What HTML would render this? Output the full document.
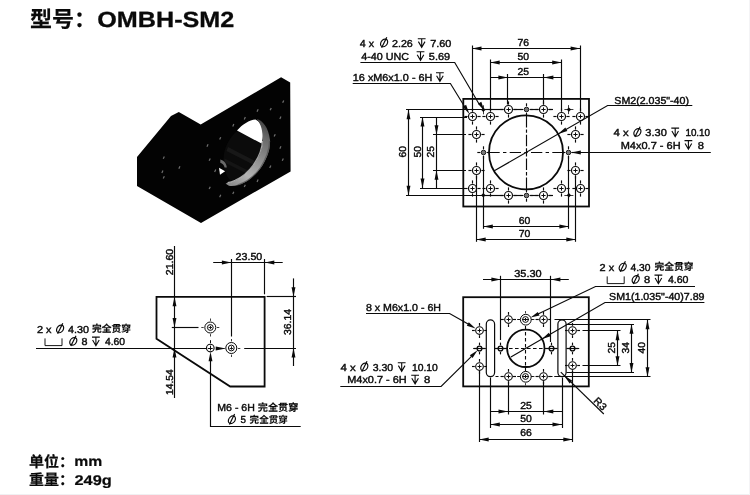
<!DOCTYPE html>
<html><head><meta charset="utf-8"><title>OMBH-SM2</title>
<style>
html,body{margin:0;padding:0;background:#fff;}
body{width:750px;height:495px;overflow:hidden;}
svg{display:block;will-change:transform;}
svg text{font-family:"Liberation Sans","Noto Sans CJK SC",sans-serif;fill:#0a0a0a;stroke:#0a0a0a;stroke-width:0.4px;text-rendering:geometricPrecision;}
</style></head><body>
<svg width="750" height="495" viewBox="0 0 750 495">
<rect width="750" height="495" fill="#fff"/>
<rect x="0" y="494" width="750" height="1" fill="#f0f0f2"/><rect x="749" y="0" width="1" height="495" fill="#f4f4f6"/>
<text x="30" y="27.2" font-size="22" font-weight="bold" text-anchor="start" style="stroke-width:0.2px">型号：</text>
<text x="97.3" y="26.8" font-size="22" font-weight="bold" text-anchor="start" textLength="137" lengthAdjust="spacingAndGlyphs" style="stroke-width:0.3px">OMBH-SM2</text>
<text x="29" y="467" font-size="15" font-weight="bold" text-anchor="start" style="stroke-width:0.2px">单位：</text>
<text x="74.2" y="466.4" font-size="14" font-weight="bold" text-anchor="start" textLength="28" lengthAdjust="spacingAndGlyphs" style="stroke-width:0.2px">mm</text>
<text x="29" y="485.4" font-size="15" font-weight="bold" text-anchor="start" style="stroke-width:0.2px">重量：</text>
<text x="74.5" y="484.9" font-size="14" font-weight="bold" text-anchor="start" textLength="37.3" lengthAdjust="spacingAndGlyphs" style="stroke-width:0.2px">249g</text>
<defs><linearGradient id="rg" gradientUnits="userSpaceOnUse" x1="270" y1="122" x2="228" y2="186"><stop offset="0" stop-color="#3c3c3c"/><stop offset="0.2" stop-color="#686868"/><stop offset="0.45" stop-color="#8a8a8a"/><stop offset="0.75" stop-color="#b4b4b4"/><stop offset="1" stop-color="#868686"/></linearGradient></defs>
<polygon points="137,157 171,116 178.8,112 200.7,124.5 281.1,77.3 290.2,82.6 290.6,171.5 201,222.9 137,185.9" fill="#030303"/>
<path d="M237 131L261.5 144C262 150 259 157 253 165C247 172.5 240 178 231 181C226 176 223 168 223.5 158C224 148 229 138 237 131Z" fill="#0b0b0b"/>
<polygon points="228,147 256,161.5 254,165 226.5,151" fill="#181818"/>
<polygon points="224.5,158.5 249,171 246.5,173.5 224.5,162.5" fill="#151515"/>
<path d="M237 130.5C242 124.5 249.5 119.6 255.5 119.4C259.5 121.5 262 125 262.6 129.5C263.4 134.5 262.8 139.5 261.5 143.6Z" fill="#fff"/>
<path d="M256.8 119.0C262.5 120.5 268.5 127 270 140C270.3 146 269.2 151 267.5 155.2C265.5 160 263.5 164 260.5 168.3C257.5 172.5 253.5 176.3 249.3 179.4C246 181.8 242 183.8 238.2 185C235.5 185.9 232.5 186.2 230.2 186C228.5 185.6 226.8 184.6 225.6 183.4C226.2 183.3 226.8 183.1 227.1 182.9C230 182.4 232.6 181.6 235.2 180.4C238.5 178.9 241.6 177 244.3 174.8C247.8 172 250.8 168.8 253.4 165.3C255.8 162 257.8 158.8 259.4 155.2C261.3 151 262.4 146 262.7 140C262.9 133 261.8 125 256.8 119.0Z" fill="url(#rg)"/>
<path d="M262.4 141C262 150 258.6 157.5 253.2 165C248.5 171.5 242.5 176.8 235 180.3C232.5 181.4 230 182.2 227.6 182.7" fill="none" stroke="#e0e0e0" stroke-width="1.2" opacity="0.7"/>
<path d="M269.6 141C269.5 150 266 159 260.2 168C254.5 176 246 182.4 237.5 185" fill="none" stroke="#555" stroke-width="1.2" opacity="0.8"/>
<path d="M220.3 159.6C223.8 160.6 226.4 163.4 226.8 167.4L224.6 167.6C224 165 222.6 163.6 220.3 162.8Z" fill="#6a6a6a"/>
<polygon points="219,167.8 225.1,171.3 220,174.8" fill="#fff"/>
<line x1="282.65" y1="102.8" x2="283.75" y2="100.4" stroke="#707070" stroke-width="1.2"/>
<line x1="270.15" y1="110.3" x2="271.25" y2="107.9" stroke="#707070" stroke-width="1.2"/>
<line x1="257.05" y1="111.7" x2="258.15" y2="109.3" stroke="#707070" stroke-width="1.2"/>
<line x1="279.85" y1="119" x2="280.95" y2="116.6" stroke="#707070" stroke-width="1.2"/>
<line x1="244.25" y1="119.4" x2="245.35" y2="117" stroke="#707070" stroke-width="1.2"/>
<line x1="232.75" y1="126.5" x2="233.85" y2="124.1" stroke="#707070" stroke-width="1.2"/>
<line x1="219.65" y1="139.6" x2="220.75" y2="137.2" stroke="#707070" stroke-width="1.2"/>
<line x1="206.95" y1="146.7" x2="208.05" y2="144.3" stroke="#707070" stroke-width="1.2"/>
<line x1="274.15" y1="136.6" x2="275.25" y2="134.2" stroke="#707070" stroke-width="1.2"/>
<line x1="279.85" y1="148.7" x2="280.95" y2="146.3" stroke="#707070" stroke-width="1.2"/>
<line x1="282.25" y1="160.8" x2="283.35" y2="158.4" stroke="#707070" stroke-width="1.2"/>
<line x1="209.15" y1="160.8" x2="210.25" y2="158.4" stroke="#707070" stroke-width="1.2"/>
<line x1="269.75" y1="167.9" x2="270.85" y2="165.5" stroke="#707070" stroke-width="1.2"/>
<line x1="214.65" y1="171.9" x2="215.75" y2="169.5" stroke="#707070" stroke-width="1.2"/>
<line x1="257.05" y1="182" x2="258.15" y2="179.6" stroke="#707070" stroke-width="1.2"/>
<line x1="244.25" y1="187.1" x2="245.35" y2="184.7" stroke="#707070" stroke-width="1.2"/>
<line x1="209.15" y1="189.1" x2="210.25" y2="186.7" stroke="#707070" stroke-width="1.2"/>
<line x1="232.75" y1="194.1" x2="233.85" y2="191.7" stroke="#707070" stroke-width="1.2"/>
<line x1="219.65" y1="197.2" x2="220.75" y2="194.8" stroke="#707070" stroke-width="1.2"/>
<line x1="163.25" y1="158.8" x2="164.35" y2="156.4" stroke="#707070" stroke-width="1.2"/>
<line x1="178.85" y1="168.7" x2="179.95" y2="166.3" stroke="#707070" stroke-width="1.2"/>
<line x1="161.85" y1="172.9" x2="162.95" y2="170.5" stroke="#707070" stroke-width="1.2"/>
<line x1="163.25" y1="178.6" x2="164.35" y2="176.2" stroke="#707070" stroke-width="1.2"/>
<rect x="463.3" y="98.9" width="125.7" height="107.6" fill="none" stroke="#0a0a0a" stroke-width="1.8"/>
<circle cx="526" cy="152.4" r="37" fill="none" stroke="#0a0a0a" stroke-width="1.8"/>
<line x1="526" y1="152.5" x2="565.6" y2="152.5" stroke="#0a0a0a" stroke-width="1.15" stroke-dasharray="1.7 3.3 11.3 3.3 3.4 3.3 11.3 3.3"/>
<line x1="526" y1="152.5" x2="486.4" y2="152.5" stroke="#0a0a0a" stroke-width="1.15" stroke-dasharray="1.7 3.3 11.3 3.3 3.4 3.3 11.3 3.3"/>
<line x1="526.5" y1="152.4" x2="526.5" y2="189.2" stroke="#0a0a0a" stroke-width="1.15" stroke-dasharray="4.2 2 11.5 2 3.3 2 11.7 2"/>
<line x1="526.5" y1="152.4" x2="526.5" y2="115.6" stroke="#0a0a0a" stroke-width="1.15" stroke-dasharray="4.2 2 11.5 2 3.3 2 11.7 2"/>
<line x1="483" y1="109.5" x2="503.5" y2="109.5" stroke="#0a0a0a" stroke-width="1.15"/>
<line x1="513.5" y1="109.5" x2="521.5" y2="109.5" stroke="#0a0a0a" stroke-width="1.15"/>
<line x1="530.5" y1="109.5" x2="538.5" y2="109.5" stroke="#0a0a0a" stroke-width="1.15"/>
<line x1="548.6" y1="109.5" x2="553" y2="109.5" stroke="#0a0a0a" stroke-width="1.15"/>
<line x1="483" y1="195.5" x2="503.5" y2="195.5" stroke="#0a0a0a" stroke-width="1.15"/>
<line x1="513.5" y1="195.5" x2="521.5" y2="195.5" stroke="#0a0a0a" stroke-width="1.15"/>
<line x1="530.5" y1="195.5" x2="538.5" y2="195.5" stroke="#0a0a0a" stroke-width="1.15"/>
<line x1="548.6" y1="195.5" x2="553" y2="195.5" stroke="#0a0a0a" stroke-width="1.15"/>
<circle cx="472.5" cy="116.5" r="4" fill="none" stroke="#0a0a0a" stroke-width="1.2"/>
<line x1="477.4" y1="116.5" x2="480.6" y2="116.5" stroke="#0a0a0a" stroke-width="1.15"/>
<line x1="467.6" y1="116.5" x2="464.4" y2="116.5" stroke="#0a0a0a" stroke-width="1.15"/>
<line x1="472.5" y1="121.4" x2="472.5" y2="124.6" stroke="#0a0a0a" stroke-width="1.15"/>
<line x1="472.5" y1="111.6" x2="472.5" y2="108.4" stroke="#0a0a0a" stroke-width="1.15"/>
<line x1="470.4" y1="116.5" x2="474.6" y2="116.5" stroke="#0a0a0a" stroke-width="1.0"/>
<line x1="472.5" y1="114.4" x2="472.5" y2="118.6" stroke="#0a0a0a" stroke-width="1.0"/>
<circle cx="490.5" cy="116.5" r="4" fill="none" stroke="#0a0a0a" stroke-width="1.2"/>
<line x1="495.4" y1="116.5" x2="498.6" y2="116.5" stroke="#0a0a0a" stroke-width="1.15"/>
<line x1="485.6" y1="116.5" x2="482.4" y2="116.5" stroke="#0a0a0a" stroke-width="1.15"/>
<line x1="490.5" y1="121.4" x2="490.5" y2="124.6" stroke="#0a0a0a" stroke-width="1.15"/>
<line x1="490.5" y1="111.6" x2="490.5" y2="108.4" stroke="#0a0a0a" stroke-width="1.15"/>
<line x1="488.4" y1="116.5" x2="492.6" y2="116.5" stroke="#0a0a0a" stroke-width="1.0"/>
<line x1="490.5" y1="114.4" x2="490.5" y2="118.6" stroke="#0a0a0a" stroke-width="1.0"/>
<circle cx="508.5" cy="109.5" r="4" fill="none" stroke="#0a0a0a" stroke-width="1.2"/>
<line x1="513.4" y1="109.5" x2="516.6" y2="109.5" stroke="#0a0a0a" stroke-width="1.15"/>
<line x1="503.6" y1="109.5" x2="500.4" y2="109.5" stroke="#0a0a0a" stroke-width="1.15"/>
<line x1="508.5" y1="114.4" x2="508.5" y2="117.6" stroke="#0a0a0a" stroke-width="1.15"/>
<line x1="508.5" y1="104.6" x2="508.5" y2="101.4" stroke="#0a0a0a" stroke-width="1.15"/>
<line x1="506.4" y1="109.5" x2="510.6" y2="109.5" stroke="#0a0a0a" stroke-width="1.0"/>
<line x1="508.5" y1="107.4" x2="508.5" y2="111.6" stroke="#0a0a0a" stroke-width="1.0"/>
<circle cx="543.5" cy="109.5" r="4" fill="none" stroke="#0a0a0a" stroke-width="1.2"/>
<line x1="548.4" y1="109.5" x2="551.6" y2="109.5" stroke="#0a0a0a" stroke-width="1.15"/>
<line x1="538.6" y1="109.5" x2="535.4" y2="109.5" stroke="#0a0a0a" stroke-width="1.15"/>
<line x1="543.5" y1="114.4" x2="543.5" y2="117.6" stroke="#0a0a0a" stroke-width="1.15"/>
<line x1="543.5" y1="104.6" x2="543.5" y2="101.4" stroke="#0a0a0a" stroke-width="1.15"/>
<line x1="541.4" y1="109.5" x2="545.6" y2="109.5" stroke="#0a0a0a" stroke-width="1.0"/>
<line x1="543.5" y1="107.4" x2="543.5" y2="111.6" stroke="#0a0a0a" stroke-width="1.0"/>
<circle cx="561.5" cy="116.5" r="4" fill="none" stroke="#0a0a0a" stroke-width="1.2"/>
<line x1="566.4" y1="116.5" x2="569.6" y2="116.5" stroke="#0a0a0a" stroke-width="1.15"/>
<line x1="556.6" y1="116.5" x2="553.4" y2="116.5" stroke="#0a0a0a" stroke-width="1.15"/>
<line x1="561.5" y1="121.4" x2="561.5" y2="124.6" stroke="#0a0a0a" stroke-width="1.15"/>
<line x1="561.5" y1="111.6" x2="561.5" y2="108.4" stroke="#0a0a0a" stroke-width="1.15"/>
<line x1="559.4" y1="116.5" x2="563.6" y2="116.5" stroke="#0a0a0a" stroke-width="1.0"/>
<line x1="561.5" y1="114.4" x2="561.5" y2="118.6" stroke="#0a0a0a" stroke-width="1.0"/>
<circle cx="580.5" cy="116.5" r="4" fill="none" stroke="#0a0a0a" stroke-width="1.2"/>
<line x1="585.4" y1="116.5" x2="588.6" y2="116.5" stroke="#0a0a0a" stroke-width="1.15"/>
<line x1="575.6" y1="116.5" x2="572.4" y2="116.5" stroke="#0a0a0a" stroke-width="1.15"/>
<line x1="580.5" y1="121.4" x2="580.5" y2="124.6" stroke="#0a0a0a" stroke-width="1.15"/>
<line x1="580.5" y1="111.6" x2="580.5" y2="108.4" stroke="#0a0a0a" stroke-width="1.15"/>
<line x1="578.4" y1="116.5" x2="582.6" y2="116.5" stroke="#0a0a0a" stroke-width="1.0"/>
<line x1="580.5" y1="114.4" x2="580.5" y2="118.6" stroke="#0a0a0a" stroke-width="1.0"/>
<circle cx="472.5" cy="188.5" r="4" fill="none" stroke="#0a0a0a" stroke-width="1.2"/>
<line x1="477.4" y1="188.5" x2="480.6" y2="188.5" stroke="#0a0a0a" stroke-width="1.15"/>
<line x1="467.6" y1="188.5" x2="464.4" y2="188.5" stroke="#0a0a0a" stroke-width="1.15"/>
<line x1="472.5" y1="193.4" x2="472.5" y2="196.6" stroke="#0a0a0a" stroke-width="1.15"/>
<line x1="472.5" y1="183.6" x2="472.5" y2="180.4" stroke="#0a0a0a" stroke-width="1.15"/>
<line x1="470.4" y1="188.5" x2="474.6" y2="188.5" stroke="#0a0a0a" stroke-width="1.0"/>
<line x1="472.5" y1="186.4" x2="472.5" y2="190.6" stroke="#0a0a0a" stroke-width="1.0"/>
<circle cx="490.5" cy="188.5" r="4" fill="none" stroke="#0a0a0a" stroke-width="1.2"/>
<line x1="495.4" y1="188.5" x2="498.6" y2="188.5" stroke="#0a0a0a" stroke-width="1.15"/>
<line x1="485.6" y1="188.5" x2="482.4" y2="188.5" stroke="#0a0a0a" stroke-width="1.15"/>
<line x1="490.5" y1="193.4" x2="490.5" y2="196.6" stroke="#0a0a0a" stroke-width="1.15"/>
<line x1="490.5" y1="183.6" x2="490.5" y2="180.4" stroke="#0a0a0a" stroke-width="1.15"/>
<line x1="488.4" y1="188.5" x2="492.6" y2="188.5" stroke="#0a0a0a" stroke-width="1.0"/>
<line x1="490.5" y1="186.4" x2="490.5" y2="190.6" stroke="#0a0a0a" stroke-width="1.0"/>
<circle cx="508.5" cy="195.5" r="4" fill="none" stroke="#0a0a0a" stroke-width="1.2"/>
<line x1="513.4" y1="195.5" x2="516.6" y2="195.5" stroke="#0a0a0a" stroke-width="1.15"/>
<line x1="503.6" y1="195.5" x2="500.4" y2="195.5" stroke="#0a0a0a" stroke-width="1.15"/>
<line x1="508.5" y1="200.4" x2="508.5" y2="203.6" stroke="#0a0a0a" stroke-width="1.15"/>
<line x1="508.5" y1="190.6" x2="508.5" y2="187.4" stroke="#0a0a0a" stroke-width="1.15"/>
<line x1="506.4" y1="195.5" x2="510.6" y2="195.5" stroke="#0a0a0a" stroke-width="1.0"/>
<line x1="508.5" y1="193.4" x2="508.5" y2="197.6" stroke="#0a0a0a" stroke-width="1.0"/>
<circle cx="543.5" cy="195.5" r="4" fill="none" stroke="#0a0a0a" stroke-width="1.2"/>
<line x1="548.4" y1="195.5" x2="551.6" y2="195.5" stroke="#0a0a0a" stroke-width="1.15"/>
<line x1="538.6" y1="195.5" x2="535.4" y2="195.5" stroke="#0a0a0a" stroke-width="1.15"/>
<line x1="543.5" y1="200.4" x2="543.5" y2="203.6" stroke="#0a0a0a" stroke-width="1.15"/>
<line x1="543.5" y1="190.6" x2="543.5" y2="187.4" stroke="#0a0a0a" stroke-width="1.15"/>
<line x1="541.4" y1="195.5" x2="545.6" y2="195.5" stroke="#0a0a0a" stroke-width="1.0"/>
<line x1="543.5" y1="193.4" x2="543.5" y2="197.6" stroke="#0a0a0a" stroke-width="1.0"/>
<circle cx="561.5" cy="188.5" r="4" fill="none" stroke="#0a0a0a" stroke-width="1.2"/>
<line x1="566.4" y1="188.5" x2="569.6" y2="188.5" stroke="#0a0a0a" stroke-width="1.15"/>
<line x1="556.6" y1="188.5" x2="553.4" y2="188.5" stroke="#0a0a0a" stroke-width="1.15"/>
<line x1="561.5" y1="193.4" x2="561.5" y2="196.6" stroke="#0a0a0a" stroke-width="1.15"/>
<line x1="561.5" y1="183.6" x2="561.5" y2="180.4" stroke="#0a0a0a" stroke-width="1.15"/>
<line x1="559.4" y1="188.5" x2="563.6" y2="188.5" stroke="#0a0a0a" stroke-width="1.0"/>
<line x1="561.5" y1="186.4" x2="561.5" y2="190.6" stroke="#0a0a0a" stroke-width="1.0"/>
<circle cx="580.5" cy="188.5" r="4" fill="none" stroke="#0a0a0a" stroke-width="1.2"/>
<line x1="585.4" y1="188.5" x2="588.6" y2="188.5" stroke="#0a0a0a" stroke-width="1.15"/>
<line x1="575.6" y1="188.5" x2="572.4" y2="188.5" stroke="#0a0a0a" stroke-width="1.15"/>
<line x1="580.5" y1="193.4" x2="580.5" y2="196.6" stroke="#0a0a0a" stroke-width="1.15"/>
<line x1="580.5" y1="183.6" x2="580.5" y2="180.4" stroke="#0a0a0a" stroke-width="1.15"/>
<line x1="578.4" y1="188.5" x2="582.6" y2="188.5" stroke="#0a0a0a" stroke-width="1.0"/>
<line x1="580.5" y1="186.4" x2="580.5" y2="190.6" stroke="#0a0a0a" stroke-width="1.0"/>
<circle cx="476.5" cy="134.5" r="4" fill="none" stroke="#0a0a0a" stroke-width="1.2"/>
<line x1="481.4" y1="134.5" x2="484.6" y2="134.5" stroke="#0a0a0a" stroke-width="1.15"/>
<line x1="471.6" y1="134.5" x2="468.4" y2="134.5" stroke="#0a0a0a" stroke-width="1.15"/>
<line x1="476.5" y1="139.4" x2="476.5" y2="142.6" stroke="#0a0a0a" stroke-width="1.15"/>
<line x1="476.5" y1="129.6" x2="476.5" y2="126.4" stroke="#0a0a0a" stroke-width="1.15"/>
<line x1="474.4" y1="134.5" x2="478.6" y2="134.5" stroke="#0a0a0a" stroke-width="1.0"/>
<line x1="476.5" y1="132.4" x2="476.5" y2="136.6" stroke="#0a0a0a" stroke-width="1.0"/>
<circle cx="476.5" cy="170.5" r="4" fill="none" stroke="#0a0a0a" stroke-width="1.2"/>
<line x1="481.4" y1="170.5" x2="484.6" y2="170.5" stroke="#0a0a0a" stroke-width="1.15"/>
<line x1="471.6" y1="170.5" x2="468.4" y2="170.5" stroke="#0a0a0a" stroke-width="1.15"/>
<line x1="476.5" y1="175.4" x2="476.5" y2="178.6" stroke="#0a0a0a" stroke-width="1.15"/>
<line x1="476.5" y1="165.6" x2="476.5" y2="162.4" stroke="#0a0a0a" stroke-width="1.15"/>
<line x1="474.4" y1="170.5" x2="478.6" y2="170.5" stroke="#0a0a0a" stroke-width="1.0"/>
<line x1="476.5" y1="168.4" x2="476.5" y2="172.6" stroke="#0a0a0a" stroke-width="1.0"/>
<circle cx="575.5" cy="134.5" r="4" fill="none" stroke="#0a0a0a" stroke-width="1.2"/>
<line x1="580.4" y1="134.5" x2="583.6" y2="134.5" stroke="#0a0a0a" stroke-width="1.15"/>
<line x1="570.6" y1="134.5" x2="567.4" y2="134.5" stroke="#0a0a0a" stroke-width="1.15"/>
<line x1="575.5" y1="139.4" x2="575.5" y2="142.6" stroke="#0a0a0a" stroke-width="1.15"/>
<line x1="575.5" y1="129.6" x2="575.5" y2="126.4" stroke="#0a0a0a" stroke-width="1.15"/>
<line x1="573.4" y1="134.5" x2="577.6" y2="134.5" stroke="#0a0a0a" stroke-width="1.0"/>
<line x1="575.5" y1="132.4" x2="575.5" y2="136.6" stroke="#0a0a0a" stroke-width="1.0"/>
<circle cx="575.5" cy="170.5" r="4" fill="none" stroke="#0a0a0a" stroke-width="1.2"/>
<line x1="580.4" y1="170.5" x2="583.6" y2="170.5" stroke="#0a0a0a" stroke-width="1.15"/>
<line x1="570.6" y1="170.5" x2="567.4" y2="170.5" stroke="#0a0a0a" stroke-width="1.15"/>
<line x1="575.5" y1="175.4" x2="575.5" y2="178.6" stroke="#0a0a0a" stroke-width="1.15"/>
<line x1="575.5" y1="165.6" x2="575.5" y2="162.4" stroke="#0a0a0a" stroke-width="1.15"/>
<line x1="573.4" y1="170.5" x2="577.6" y2="170.5" stroke="#0a0a0a" stroke-width="1.0"/>
<line x1="575.5" y1="168.4" x2="575.5" y2="172.6" stroke="#0a0a0a" stroke-width="1.0"/>
<circle cx="526.5" cy="109.5" r="2.3" fill="#777" stroke="#0a0a0a" stroke-width="0.9"/>
<line x1="529.7" y1="109.5" x2="532.7" y2="109.5" stroke="#0a0a0a" stroke-width="1.15"/>
<line x1="523.3" y1="109.5" x2="520.3" y2="109.5" stroke="#0a0a0a" stroke-width="1.15"/>
<line x1="526.5" y1="112.7" x2="526.5" y2="115.7" stroke="#0a0a0a" stroke-width="1.15"/>
<line x1="526.5" y1="106.3" x2="526.5" y2="103.3" stroke="#0a0a0a" stroke-width="1.15"/>
<circle cx="526.5" cy="195.5" r="2.3" fill="#777" stroke="#0a0a0a" stroke-width="0.9"/>
<line x1="529.7" y1="195.5" x2="532.7" y2="195.5" stroke="#0a0a0a" stroke-width="1.15"/>
<line x1="523.3" y1="195.5" x2="520.3" y2="195.5" stroke="#0a0a0a" stroke-width="1.15"/>
<line x1="526.5" y1="198.7" x2="526.5" y2="201.7" stroke="#0a0a0a" stroke-width="1.15"/>
<line x1="526.5" y1="192.3" x2="526.5" y2="189.3" stroke="#0a0a0a" stroke-width="1.15"/>
<circle cx="483.5" cy="152.5" r="2.3" fill="#777" stroke="#0a0a0a" stroke-width="0.9"/>
<line x1="486.7" y1="152.5" x2="489.7" y2="152.5" stroke="#0a0a0a" stroke-width="1.15"/>
<line x1="480.3" y1="152.5" x2="477.3" y2="152.5" stroke="#0a0a0a" stroke-width="1.15"/>
<line x1="483.5" y1="155.7" x2="483.5" y2="158.7" stroke="#0a0a0a" stroke-width="1.15"/>
<line x1="483.5" y1="149.3" x2="483.5" y2="146.3" stroke="#0a0a0a" stroke-width="1.15"/>
<circle cx="568.5" cy="152.5" r="2.3" fill="#777" stroke="#0a0a0a" stroke-width="0.9"/>
<line x1="571.7" y1="152.5" x2="574.7" y2="152.5" stroke="#0a0a0a" stroke-width="1.15"/>
<line x1="565.3" y1="152.5" x2="562.3" y2="152.5" stroke="#0a0a0a" stroke-width="1.15"/>
<line x1="568.5" y1="155.7" x2="568.5" y2="158.7" stroke="#0a0a0a" stroke-width="1.15"/>
<line x1="568.5" y1="149.3" x2="568.5" y2="146.3" stroke="#0a0a0a" stroke-width="1.15"/>
<polygon points="481.1,109.8 483.3,107.6 485.5,109.8 483.3,112" fill="#0a0a0a"/>
<line x1="478.8" y1="109.5" x2="487.8" y2="109.5" stroke="#0a0a0a" stroke-width="0.8"/>
<line x1="483.5" y1="105.3" x2="483.5" y2="114.3" stroke="#0a0a0a" stroke-width="0.8"/>
<polygon points="566.7,109.6 568.9,107.4 571.1,109.6 568.9,111.8" fill="#0a0a0a"/>
<line x1="564.4" y1="109.5" x2="573.4" y2="109.5" stroke="#0a0a0a" stroke-width="0.8"/>
<line x1="568.5" y1="105.1" x2="568.5" y2="114.1" stroke="#0a0a0a" stroke-width="0.8"/>
<polygon points="481.1,195.3 483.3,193.1 485.5,195.3 483.3,197.5" fill="#0a0a0a"/>
<line x1="478.8" y1="195.5" x2="487.8" y2="195.5" stroke="#0a0a0a" stroke-width="0.8"/>
<line x1="483.5" y1="190.8" x2="483.5" y2="199.8" stroke="#0a0a0a" stroke-width="0.8"/>
<polygon points="566.7,195.3 568.9,193.1 571.1,195.3 568.9,197.5" fill="#0a0a0a"/>
<line x1="564.4" y1="195.5" x2="573.4" y2="195.5" stroke="#0a0a0a" stroke-width="0.8"/>
<line x1="568.5" y1="190.8" x2="568.5" y2="199.8" stroke="#0a0a0a" stroke-width="0.8"/>
<line x1="472" y1="48.5" x2="580.1" y2="48.5" stroke="#0a0a0a" stroke-width="1.15"/>
<polygon points="472,48.5 481.5,46.55 481.5,50.45" fill="#0a0a0a"/>
<polygon points="580.1,48.5 570.6,50.45 570.6,46.55" fill="#0a0a0a"/>
<text x="523.3" y="45.9" font-size="10.1" text-anchor="middle" font-weight="normal" textLength="11.6" lengthAdjust="spacingAndGlyphs">76</text>
<line x1="490.2" y1="62.5" x2="561.7" y2="62.5" stroke="#0a0a0a" stroke-width="1.15"/>
<polygon points="490.2,62.5 499.7,60.55 499.7,64.45" fill="#0a0a0a"/>
<polygon points="561.7,62.5 552.2,64.45 552.2,60.55" fill="#0a0a0a"/>
<text x="523.3" y="59.9" font-size="10.1" text-anchor="middle" font-weight="normal" textLength="11.6" lengthAdjust="spacingAndGlyphs">50</text>
<line x1="490.2" y1="77.5" x2="561.7" y2="77.5" stroke="#0a0a0a" stroke-width="1.15"/>
<polygon points="507.9,77.5 498.4,79.45 498.4,75.55" fill="#0a0a0a"/>
<polygon points="543.9,77.5 553.4,75.55 553.4,79.45" fill="#0a0a0a"/>
<text x="523.3" y="75" font-size="10.1" text-anchor="middle" font-weight="normal" textLength="11.6" lengthAdjust="spacingAndGlyphs">25</text>
<line x1="472.5" y1="45.5" x2="472.5" y2="111.5" stroke="#0a0a0a" stroke-width="1.15"/>
<line x1="580.5" y1="45.5" x2="580.5" y2="111.5" stroke="#0a0a0a" stroke-width="1.15"/>
<line x1="490.5" y1="59.5" x2="490.5" y2="111.5" stroke="#0a0a0a" stroke-width="1.15"/>
<line x1="561.5" y1="59.5" x2="561.5" y2="111.5" stroke="#0a0a0a" stroke-width="1.15"/>
<line x1="507.5" y1="74" x2="507.5" y2="104.5" stroke="#0a0a0a" stroke-width="1.15"/>
<line x1="543.5" y1="74" x2="543.5" y2="104.5" stroke="#0a0a0a" stroke-width="1.15"/>
<line x1="406" y1="109.5" x2="483" y2="109.5" stroke="#0a0a0a" stroke-width="1.15"/>
<line x1="406" y1="195.5" x2="483" y2="195.5" stroke="#0a0a0a" stroke-width="1.15"/>
<line x1="420" y1="117.5" x2="467" y2="117.5" stroke="#0a0a0a" stroke-width="1.15"/>
<line x1="420" y1="188.5" x2="467" y2="188.5" stroke="#0a0a0a" stroke-width="1.15"/>
<line x1="433" y1="134.5" x2="466" y2="134.5" stroke="#0a0a0a" stroke-width="1.15"/>
<line x1="433" y1="170.5" x2="466" y2="170.5" stroke="#0a0a0a" stroke-width="1.15"/>
<line x1="408.5" y1="109.7" x2="408.5" y2="195.3" stroke="#0a0a0a" stroke-width="1.15"/>
<polygon points="408.5,109.7 410.45,119.2 406.55,119.2" fill="#0a0a0a"/>
<polygon points="408.5,195.3 406.55,185.8 410.45,185.8" fill="#0a0a0a"/>
<text x="405.6" y="151.7" font-size="10.1" text-anchor="middle" font-weight="normal" textLength="11.4" lengthAdjust="spacingAndGlyphs" transform="rotate(-90 405.6 151.7)">60</text>
<line x1="422.5" y1="117" x2="422.5" y2="188.1" stroke="#0a0a0a" stroke-width="1.15"/>
<polygon points="422.5,117 424.45,126.5 420.55,126.5" fill="#0a0a0a"/>
<polygon points="422.5,188.1 420.55,178.6 424.45,178.6" fill="#0a0a0a"/>
<text x="420.7" y="151.7" font-size="10.1" text-anchor="middle" font-weight="normal" textLength="11.4" lengthAdjust="spacingAndGlyphs" transform="rotate(-90 420.7 151.7)">50</text>
<line x1="436.5" y1="117" x2="436.5" y2="188.1" stroke="#0a0a0a" stroke-width="1.15"/>
<polygon points="436.5,134.7 434.55,125.2 438.45,125.2" fill="#0a0a0a"/>
<polygon points="436.5,170.2 438.45,179.7 434.55,179.7" fill="#0a0a0a"/>
<text x="433.8" y="151.7" font-size="10.1" text-anchor="middle" font-weight="normal" textLength="11.4" lengthAdjust="spacingAndGlyphs" transform="rotate(-90 433.8 151.7)">25</text>
<line x1="476.5" y1="175.5" x2="476.5" y2="241.8" stroke="#0a0a0a" stroke-width="1.15"/>
<line x1="575.5" y1="175.5" x2="575.5" y2="241.8" stroke="#0a0a0a" stroke-width="1.15"/>
<line x1="483.5" y1="156" x2="483.5" y2="228.8" stroke="#0a0a0a" stroke-width="1.15"/>
<line x1="568.5" y1="156" x2="568.5" y2="228.8" stroke="#0a0a0a" stroke-width="1.15"/>
<line x1="483.3" y1="226.5" x2="568.9" y2="226.5" stroke="#0a0a0a" stroke-width="1.15"/>
<polygon points="483.3,226.5 492.8,224.55 492.8,228.45" fill="#0a0a0a"/>
<polygon points="568.9,226.5 559.4,228.45 559.4,224.55" fill="#0a0a0a"/>
<text x="524.6" y="224.3" font-size="10.1" text-anchor="middle" font-weight="normal" textLength="11.6" lengthAdjust="spacingAndGlyphs">60</text>
<line x1="476.2" y1="239.5" x2="575.8" y2="239.5" stroke="#0a0a0a" stroke-width="1.15"/>
<polygon points="476.2,239.5 485.7,237.55 485.7,241.45" fill="#0a0a0a"/>
<polygon points="575.8,239.5 566.3,241.45 566.3,237.55" fill="#0a0a0a"/>
<text x="524.6" y="237.4" font-size="10.1" text-anchor="middle" font-weight="normal" textLength="11.6" lengthAdjust="spacingAndGlyphs">70</text>
<text x="359.8" y="46.6" font-size="10.1" text-anchor="start" font-weight="normal" textLength="14.2" lengthAdjust="spacingAndGlyphs">4 x</text>
<g transform="translate(384.1 42.95)" fill="none" stroke="#0a0a0a" stroke-width="1.2"><ellipse cx="0" cy="0" rx="3.4" ry="3.8" transform="skewX(-14)"/><line x1="2.7" y1="-5.7" x2="-2.5" y2="4.7"/></g>
<text x="392" y="46.6" font-size="10.1" text-anchor="start" font-weight="normal" textLength="20.8" lengthAdjust="spacingAndGlyphs">2.26</text>
<g fill="none" stroke="#0a0a0a" stroke-width="1.1" stroke-linejoin="miter"><path d="M417.8 38.7H425.6M421.7 38.7V46.5M418.4 41.6L421.7 47.3L425 41.6"/></g>
<text x="430.2" y="46.6" font-size="10.1" text-anchor="start" font-weight="normal" textLength="21.2" lengthAdjust="spacingAndGlyphs">7.60</text>
<text x="361.3" y="59.7" font-size="10.1" text-anchor="start" font-weight="normal" textLength="47.8" lengthAdjust="spacingAndGlyphs">4-40 UNC</text>
<g fill="none" stroke="#0a0a0a" stroke-width="1.1" stroke-linejoin="miter"><path d="M416.6 51.8H424.4M420.5 51.8V59.6M417.2 54.7L420.5 60.4L423.8 54.7"/></g>
<text x="428.8" y="59.7" font-size="10.1" text-anchor="start" font-weight="normal" textLength="21.3" lengthAdjust="spacingAndGlyphs">5.69</text>
<polyline points="360.4,62.5 454.7,62.5 479.5,104.8" fill="none" stroke="#0a0a0a" stroke-width="1.15" stroke-linejoin="miter"/>
<polygon points="484.4,110.9 477.95,103.66 481.32,101.7" fill="#0a0a0a"/>
<text x="352.8" y="80.7" font-size="10.1" text-anchor="start" font-weight="normal" textLength="79.6" lengthAdjust="spacingAndGlyphs">16 xM6x1.0 - 6H</text>
<g fill="none" stroke="#0a0a0a" stroke-width="1.1" stroke-linejoin="miter"><path d="M436 72.8H443.8M439.9 72.8V80.6M436.6 75.7L439.9 81.4L443.2 75.7"/></g>
<polyline points="352.7,83.5 450.4,83.5 464.5,106.5" fill="none" stroke="#0a0a0a" stroke-width="1.15" stroke-linejoin="miter"/>
<polygon points="469.4,114 462.8,106.9 466.13,104.87" fill="#0a0a0a"/>
<text x="614.3" y="103.6" font-size="10.1" text-anchor="start" font-weight="normal" textLength="74.7" lengthAdjust="spacingAndGlyphs">SM2(2.035&quot;-40)</text>
<polyline points="692.3,105.5 607.6,105.5 493.9,171" fill="none" stroke="#0a0a0a" stroke-width="1.15" stroke-linejoin="miter"/>
<polygon points="558.1,134 565.37,127.59 567.31,130.97" fill="#0a0a0a"/>
<text x="613.4" y="136" font-size="10.1" text-anchor="start" font-weight="normal" textLength="15.2" lengthAdjust="spacingAndGlyphs">4 x</text>
<g transform="translate(637.4 132.35)" fill="none" stroke="#0a0a0a" stroke-width="1.2"><ellipse cx="0" cy="0" rx="3.4" ry="3.8" transform="skewX(-14)"/><line x1="2.7" y1="-5.7" x2="-2.5" y2="4.7"/></g>
<text x="645.3" y="136" font-size="10.1" text-anchor="start" font-weight="normal" textLength="21.5" lengthAdjust="spacingAndGlyphs">3.30</text>
<g fill="none" stroke="#0a0a0a" stroke-width="1.1" stroke-linejoin="miter"><path d="M671.3 128.1H679.1M675.2 128.1V135.9M671.9 131L675.2 136.7L678.5 131"/></g>
<text x="685.4" y="136" font-size="10.1" text-anchor="start" font-weight="normal" textLength="24.7" lengthAdjust="spacingAndGlyphs">10.10</text>
<text x="620.7" y="148.5" font-size="10.1" text-anchor="start" font-weight="normal" textLength="59.9" lengthAdjust="spacingAndGlyphs">M4x0.7 - 6H</text>
<g fill="none" stroke="#0a0a0a" stroke-width="1.1" stroke-linejoin="miter"><path d="M684.5 140.6H692.3M688.4 140.6V148.4M685.1 143.5L688.4 149.2L691.7 143.5"/></g>
<text x="697.8" y="148.5" font-size="10.1" text-anchor="start" font-weight="normal" textLength="6.2" lengthAdjust="spacingAndGlyphs">8</text>
<line x1="571.5" y1="152.5" x2="710.8" y2="152.5" stroke="#0a0a0a" stroke-width="1.15"/>
<polygon points="571.3,152.5 580.8,150.55 580.8,154.45" fill="#0a0a0a"/>
<rect x="463.2" y="297.2" width="125.6" height="89.2" fill="none" stroke="#0a0a0a" stroke-width="1.8"/>
<circle cx="525.8" cy="348.3" r="18.7" fill="none" stroke="#0a0a0a" stroke-width="1.8"/>
<line x1="509" y1="348.5" x2="545.5" y2="348.5" stroke="#0a0a0a" stroke-width="1.1" stroke-dasharray="3.6 2.4"/>
<line x1="525.5" y1="326" x2="525.5" y2="371" stroke="#0a0a0a" stroke-width="1.1" stroke-dasharray="3.6 2.4"/>
<line x1="513" y1="319.5" x2="539" y2="319.5" stroke="#0a0a0a" stroke-width="0.9" stroke-dasharray="2.5 2"/>
<line x1="513" y1="376.5" x2="539" y2="376.5" stroke="#0a0a0a" stroke-width="0.9" stroke-dasharray="2.5 2"/>
<line x1="549.5" y1="376.5" x2="556.5" y2="376.5" stroke="#0a0a0a" stroke-width="1.0" stroke-dasharray="3 2"/>
<line x1="495.5" y1="376.5" x2="502.5" y2="376.5" stroke="#0a0a0a" stroke-width="1.0" stroke-dasharray="3 2"/>
<circle cx="508.5" cy="319.5" r="3.8" fill="none" stroke="#0a0a0a" stroke-width="1.15"/>
<line x1="513.2" y1="319.5" x2="516" y2="319.5" stroke="#0a0a0a" stroke-width="1.15"/>
<line x1="503.8" y1="319.5" x2="501" y2="319.5" stroke="#0a0a0a" stroke-width="1.15"/>
<line x1="508.5" y1="324.2" x2="508.5" y2="327" stroke="#0a0a0a" stroke-width="1.15"/>
<line x1="508.5" y1="314.8" x2="508.5" y2="312" stroke="#0a0a0a" stroke-width="1.15"/>
<line x1="506.5" y1="319.5" x2="510.5" y2="319.5" stroke="#0a0a0a" stroke-width="1.0"/>
<line x1="508.5" y1="317.5" x2="508.5" y2="321.5" stroke="#0a0a0a" stroke-width="1.0"/>
<circle cx="543.5" cy="319.5" r="3.8" fill="none" stroke="#0a0a0a" stroke-width="1.15"/>
<line x1="548.2" y1="319.5" x2="551" y2="319.5" stroke="#0a0a0a" stroke-width="1.15"/>
<line x1="538.8" y1="319.5" x2="536" y2="319.5" stroke="#0a0a0a" stroke-width="1.15"/>
<line x1="543.5" y1="324.2" x2="543.5" y2="327" stroke="#0a0a0a" stroke-width="1.15"/>
<line x1="543.5" y1="314.8" x2="543.5" y2="312" stroke="#0a0a0a" stroke-width="1.15"/>
<line x1="541.5" y1="319.5" x2="545.5" y2="319.5" stroke="#0a0a0a" stroke-width="1.0"/>
<line x1="543.5" y1="317.5" x2="543.5" y2="321.5" stroke="#0a0a0a" stroke-width="1.0"/>
<circle cx="508.5" cy="376.5" r="3.8" fill="none" stroke="#0a0a0a" stroke-width="1.15"/>
<line x1="513.2" y1="376.5" x2="516" y2="376.5" stroke="#0a0a0a" stroke-width="1.15"/>
<line x1="503.8" y1="376.5" x2="501" y2="376.5" stroke="#0a0a0a" stroke-width="1.15"/>
<line x1="508.5" y1="381.2" x2="508.5" y2="384" stroke="#0a0a0a" stroke-width="1.15"/>
<line x1="508.5" y1="371.8" x2="508.5" y2="369" stroke="#0a0a0a" stroke-width="1.15"/>
<line x1="506.5" y1="376.5" x2="510.5" y2="376.5" stroke="#0a0a0a" stroke-width="1.0"/>
<line x1="508.5" y1="374.5" x2="508.5" y2="378.5" stroke="#0a0a0a" stroke-width="1.0"/>
<circle cx="543.5" cy="376.5" r="3.8" fill="none" stroke="#0a0a0a" stroke-width="1.15"/>
<line x1="548.2" y1="376.5" x2="551" y2="376.5" stroke="#0a0a0a" stroke-width="1.15"/>
<line x1="538.8" y1="376.5" x2="536" y2="376.5" stroke="#0a0a0a" stroke-width="1.15"/>
<line x1="543.5" y1="381.2" x2="543.5" y2="384" stroke="#0a0a0a" stroke-width="1.15"/>
<line x1="543.5" y1="371.8" x2="543.5" y2="369" stroke="#0a0a0a" stroke-width="1.15"/>
<line x1="541.5" y1="376.5" x2="545.5" y2="376.5" stroke="#0a0a0a" stroke-width="1.0"/>
<line x1="543.5" y1="374.5" x2="543.5" y2="378.5" stroke="#0a0a0a" stroke-width="1.0"/>
<circle cx="479.5" cy="330.5" r="3.8" fill="none" stroke="#0a0a0a" stroke-width="1.15"/>
<line x1="484.2" y1="330.5" x2="487" y2="330.5" stroke="#0a0a0a" stroke-width="1.15"/>
<line x1="474.8" y1="330.5" x2="472" y2="330.5" stroke="#0a0a0a" stroke-width="1.15"/>
<line x1="479.5" y1="335.2" x2="479.5" y2="338" stroke="#0a0a0a" stroke-width="1.15"/>
<line x1="479.5" y1="325.8" x2="479.5" y2="323" stroke="#0a0a0a" stroke-width="1.15"/>
<line x1="477.5" y1="330.5" x2="481.5" y2="330.5" stroke="#0a0a0a" stroke-width="1.0"/>
<line x1="479.5" y1="328.5" x2="479.5" y2="332.5" stroke="#0a0a0a" stroke-width="1.0"/>
<circle cx="479.5" cy="366.5" r="3.8" fill="none" stroke="#0a0a0a" stroke-width="1.15"/>
<line x1="484.2" y1="366.5" x2="487" y2="366.5" stroke="#0a0a0a" stroke-width="1.15"/>
<line x1="474.8" y1="366.5" x2="472" y2="366.5" stroke="#0a0a0a" stroke-width="1.15"/>
<line x1="479.5" y1="371.2" x2="479.5" y2="374" stroke="#0a0a0a" stroke-width="1.15"/>
<line x1="479.5" y1="361.8" x2="479.5" y2="359" stroke="#0a0a0a" stroke-width="1.15"/>
<line x1="477.5" y1="366.5" x2="481.5" y2="366.5" stroke="#0a0a0a" stroke-width="1.0"/>
<line x1="479.5" y1="364.5" x2="479.5" y2="368.5" stroke="#0a0a0a" stroke-width="1.0"/>
<circle cx="572.5" cy="330.5" r="3.8" fill="none" stroke="#0a0a0a" stroke-width="1.15"/>
<line x1="577.2" y1="330.5" x2="580" y2="330.5" stroke="#0a0a0a" stroke-width="1.15"/>
<line x1="567.8" y1="330.5" x2="565" y2="330.5" stroke="#0a0a0a" stroke-width="1.15"/>
<line x1="572.5" y1="335.2" x2="572.5" y2="338" stroke="#0a0a0a" stroke-width="1.15"/>
<line x1="572.5" y1="325.8" x2="572.5" y2="323" stroke="#0a0a0a" stroke-width="1.15"/>
<line x1="570.5" y1="330.5" x2="574.5" y2="330.5" stroke="#0a0a0a" stroke-width="1.0"/>
<line x1="572.5" y1="328.5" x2="572.5" y2="332.5" stroke="#0a0a0a" stroke-width="1.0"/>
<circle cx="572.5" cy="365.5" r="3.8" fill="none" stroke="#0a0a0a" stroke-width="1.15"/>
<line x1="577.2" y1="365.5" x2="580" y2="365.5" stroke="#0a0a0a" stroke-width="1.15"/>
<line x1="567.8" y1="365.5" x2="565" y2="365.5" stroke="#0a0a0a" stroke-width="1.15"/>
<line x1="572.5" y1="370.2" x2="572.5" y2="373" stroke="#0a0a0a" stroke-width="1.15"/>
<line x1="572.5" y1="360.8" x2="572.5" y2="358" stroke="#0a0a0a" stroke-width="1.15"/>
<line x1="570.5" y1="365.5" x2="574.5" y2="365.5" stroke="#0a0a0a" stroke-width="1.0"/>
<line x1="572.5" y1="363.5" x2="572.5" y2="367.5" stroke="#0a0a0a" stroke-width="1.0"/>
<circle cx="525.8" cy="319.7" r="5.4" fill="none" stroke="#0a0a0a" stroke-width="1.0"/>
<circle cx="525.5" cy="319.5" r="2.9" fill="none" stroke="#0a0a0a" stroke-width="1.0"/>
<line x1="529.5" y1="319.5" x2="529.5" y2="319.5" stroke="#0a0a0a" stroke-width="1.15"/>
<line x1="521.5" y1="319.5" x2="521.5" y2="319.5" stroke="#0a0a0a" stroke-width="1.15"/>
<line x1="525.5" y1="323.5" x2="525.5" y2="323.5" stroke="#0a0a0a" stroke-width="1.15"/>
<line x1="525.5" y1="315.5" x2="525.5" y2="315.5" stroke="#0a0a0a" stroke-width="1.15"/>
<line x1="523.9" y1="319.5" x2="527.1" y2="319.5" stroke="#0a0a0a" stroke-width="1.0"/>
<line x1="525.5" y1="317.9" x2="525.5" y2="321.1" stroke="#0a0a0a" stroke-width="1.0"/>
<line x1="532.1" y1="319.5" x2="534.4" y2="319.5" stroke="#0a0a0a" stroke-width="0.8"/>
<line x1="519.5" y1="319.5" x2="517.2" y2="319.5" stroke="#0a0a0a" stroke-width="0.8"/>
<line x1="525.5" y1="326" x2="525.5" y2="328.3" stroke="#0a0a0a" stroke-width="0.8"/>
<line x1="525.5" y1="313.4" x2="525.5" y2="311.1" stroke="#0a0a0a" stroke-width="0.8"/>
<circle cx="525.8" cy="376.8" r="5.4" fill="none" stroke="#0a0a0a" stroke-width="1.0"/>
<circle cx="525.5" cy="376.5" r="2.9" fill="none" stroke="#0a0a0a" stroke-width="1.0"/>
<line x1="529.5" y1="376.5" x2="529.5" y2="376.5" stroke="#0a0a0a" stroke-width="1.15"/>
<line x1="521.5" y1="376.5" x2="521.5" y2="376.5" stroke="#0a0a0a" stroke-width="1.15"/>
<line x1="525.5" y1="380.5" x2="525.5" y2="380.5" stroke="#0a0a0a" stroke-width="1.15"/>
<line x1="525.5" y1="372.5" x2="525.5" y2="372.5" stroke="#0a0a0a" stroke-width="1.15"/>
<line x1="523.9" y1="376.5" x2="527.1" y2="376.5" stroke="#0a0a0a" stroke-width="1.0"/>
<line x1="525.5" y1="374.9" x2="525.5" y2="378.1" stroke="#0a0a0a" stroke-width="1.0"/>
<line x1="532.1" y1="376.5" x2="534.4" y2="376.5" stroke="#0a0a0a" stroke-width="0.8"/>
<line x1="519.5" y1="376.5" x2="517.2" y2="376.5" stroke="#0a0a0a" stroke-width="0.8"/>
<line x1="525.5" y1="383.1" x2="525.5" y2="385.4" stroke="#0a0a0a" stroke-width="0.8"/>
<line x1="525.5" y1="370.5" x2="525.5" y2="368.2" stroke="#0a0a0a" stroke-width="0.8"/>
<circle cx="479.5" cy="348.5" r="2.4" fill="#fff" stroke="#0a0a0a" stroke-width="1.35"/>
<line x1="482.8" y1="348.5" x2="485.4" y2="348.5" stroke="#0a0a0a" stroke-width="1.15"/>
<line x1="476.2" y1="348.5" x2="473.6" y2="348.5" stroke="#0a0a0a" stroke-width="1.15"/>
<line x1="479.5" y1="351.8" x2="479.5" y2="354.4" stroke="#0a0a0a" stroke-width="1.15"/>
<line x1="479.5" y1="345.2" x2="479.5" y2="342.6" stroke="#0a0a0a" stroke-width="1.15"/>
<line x1="476.9" y1="348.5" x2="481.7" y2="348.5" stroke="#0a0a0a" stroke-width="0.9"/>
<circle cx="500.5" cy="348.5" r="2.4" fill="#fff" stroke="#0a0a0a" stroke-width="1.35"/>
<line x1="503.8" y1="348.5" x2="506.4" y2="348.5" stroke="#0a0a0a" stroke-width="1.15"/>
<line x1="497.2" y1="348.5" x2="494.6" y2="348.5" stroke="#0a0a0a" stroke-width="1.15"/>
<line x1="500.5" y1="351.8" x2="500.5" y2="354.4" stroke="#0a0a0a" stroke-width="1.15"/>
<line x1="500.5" y1="345.2" x2="500.5" y2="342.6" stroke="#0a0a0a" stroke-width="1.15"/>
<line x1="498.4" y1="348.5" x2="503.2" y2="348.5" stroke="#0a0a0a" stroke-width="0.9"/>
<circle cx="551.5" cy="348.5" r="2.4" fill="#fff" stroke="#0a0a0a" stroke-width="1.35"/>
<line x1="554.8" y1="348.5" x2="557.4" y2="348.5" stroke="#0a0a0a" stroke-width="1.15"/>
<line x1="548.2" y1="348.5" x2="545.6" y2="348.5" stroke="#0a0a0a" stroke-width="1.15"/>
<line x1="551.5" y1="351.8" x2="551.5" y2="354.4" stroke="#0a0a0a" stroke-width="1.15"/>
<line x1="551.5" y1="345.2" x2="551.5" y2="342.6" stroke="#0a0a0a" stroke-width="1.15"/>
<line x1="549.1" y1="348.5" x2="553.9" y2="348.5" stroke="#0a0a0a" stroke-width="0.9"/>
<circle cx="572.5" cy="348.5" r="2.4" fill="#fff" stroke="#0a0a0a" stroke-width="1.35"/>
<line x1="575.8" y1="348.5" x2="578.4" y2="348.5" stroke="#0a0a0a" stroke-width="1.15"/>
<line x1="569.2" y1="348.5" x2="566.6" y2="348.5" stroke="#0a0a0a" stroke-width="1.15"/>
<line x1="572.5" y1="351.8" x2="572.5" y2="354.4" stroke="#0a0a0a" stroke-width="1.15"/>
<line x1="572.5" y1="345.2" x2="572.5" y2="342.6" stroke="#0a0a0a" stroke-width="1.15"/>
<line x1="570.4" y1="348.5" x2="575.2" y2="348.5" stroke="#0a0a0a" stroke-width="0.9"/>
<line x1="473.3" y1="348.5" x2="485.8" y2="348.5" stroke="#0a0a0a" stroke-width="1.1"/>
<line x1="495.2" y1="348.5" x2="507.2" y2="348.5" stroke="#0a0a0a" stroke-width="1.1"/>
<line x1="544.4" y1="348.5" x2="557.4" y2="348.5" stroke="#0a0a0a" stroke-width="1.1"/>
<line x1="566.6" y1="348.5" x2="579.2" y2="348.5" stroke="#0a0a0a" stroke-width="1.1"/>
<rect x="486.3" y="319.9" width="8.3" height="56.8" rx="4.15" ry="4.15" fill="none" stroke="#0a0a0a" stroke-width="1.2"/>
<rect x="557.9" y="319.9" width="8.2" height="56.8" rx="4.15" ry="4.15" fill="none" stroke="#0a0a0a" stroke-width="1.2"/>
<line x1="483" y1="279.5" x2="568.8" y2="279.5" stroke="#0a0a0a" stroke-width="1.15"/>
<polygon points="500.9,279.5 491.4,281.45 491.4,277.55" fill="#0a0a0a"/>
<polygon points="550.9,279.5 560.4,277.55 560.4,281.45" fill="#0a0a0a"/>
<line x1="500.5" y1="275.8" x2="500.5" y2="340" stroke="#0a0a0a" stroke-width="1.15"/>
<line x1="550.5" y1="275.8" x2="550.5" y2="342" stroke="#0a0a0a" stroke-width="1.15"/>
<text x="514.2" y="277.4" font-size="10.1" text-anchor="start" font-weight="normal" textLength="27.5" lengthAdjust="spacingAndGlyphs">35.30</text>
<line x1="479.5" y1="371" x2="479.5" y2="442" stroke="#0a0a0a" stroke-width="1.15"/>
<line x1="572.5" y1="371" x2="572.5" y2="442" stroke="#0a0a0a" stroke-width="1.15"/>
<line x1="490.5" y1="377.5" x2="490.5" y2="428" stroke="#0a0a0a" stroke-width="1.15"/>
<line x1="562.5" y1="377.5" x2="562.5" y2="428" stroke="#0a0a0a" stroke-width="1.15"/>
<line x1="508.5" y1="381.5" x2="508.5" y2="414.5" stroke="#0a0a0a" stroke-width="1.15"/>
<line x1="543.5" y1="381.5" x2="543.5" y2="414.5" stroke="#0a0a0a" stroke-width="1.15"/>
<line x1="490.3" y1="411.5" x2="562" y2="411.5" stroke="#0a0a0a" stroke-width="1.15"/>
<polygon points="508,411.5 498.5,413.45 498.5,409.55" fill="#0a0a0a"/>
<polygon points="543.8,411.5 553.3,409.55 553.3,413.45" fill="#0a0a0a"/>
<text x="526" y="408.7" font-size="10.1" text-anchor="middle" font-weight="normal" textLength="11.6" lengthAdjust="spacingAndGlyphs">25</text>
<line x1="490.3" y1="424.5" x2="562" y2="424.5" stroke="#0a0a0a" stroke-width="1.15"/>
<polygon points="490.3,424.5 499.8,422.55 499.8,426.45" fill="#0a0a0a"/>
<polygon points="562,424.5 552.5,426.45 552.5,422.55" fill="#0a0a0a"/>
<text x="526" y="422.1" font-size="10.1" text-anchor="middle" font-weight="normal" textLength="11.6" lengthAdjust="spacingAndGlyphs">50</text>
<line x1="479.2" y1="439.5" x2="572.8" y2="439.5" stroke="#0a0a0a" stroke-width="1.15"/>
<polygon points="479.2,439.5 488.7,437.55 488.7,441.45" fill="#0a0a0a"/>
<polygon points="572.8,439.5 563.3,441.45 563.3,437.55" fill="#0a0a0a"/>
<text x="526" y="436.4" font-size="10.1" text-anchor="middle" font-weight="normal" textLength="11.6" lengthAdjust="spacingAndGlyphs">66</text>
<line x1="554.5" y1="319.5" x2="650.5" y2="319.5" stroke="#0a0a0a" stroke-width="1.15"/>
<line x1="554.5" y1="376.5" x2="650.5" y2="376.5" stroke="#0a0a0a" stroke-width="1.15"/>
<line x1="566.5" y1="324.5" x2="634" y2="324.5" stroke="#0a0a0a" stroke-width="1.15"/>
<line x1="566.5" y1="372.5" x2="634" y2="372.5" stroke="#0a0a0a" stroke-width="1.15"/>
<line x1="582.5" y1="330.5" x2="620.5" y2="330.5" stroke="#0a0a0a" stroke-width="1.15"/>
<line x1="582.5" y1="365.5" x2="620.5" y2="365.5" stroke="#0a0a0a" stroke-width="1.15"/>
<line x1="647.5" y1="319.8" x2="647.5" y2="376.8" stroke="#0a0a0a" stroke-width="1.15"/>
<polygon points="647.5,319.8 649.45,329.3 645.55,329.3" fill="#0a0a0a"/>
<polygon points="647.5,376.8 645.55,367.3 649.45,367.3" fill="#0a0a0a"/>
<text x="644.7" y="347.8" font-size="10.1" text-anchor="middle" font-weight="normal" textLength="11.4" lengthAdjust="spacingAndGlyphs" transform="rotate(-90 644.7 347.8)">40</text>
<line x1="631.5" y1="324.3" x2="631.5" y2="372.5" stroke="#0a0a0a" stroke-width="1.15"/>
<polygon points="631.5,324.3 633.45,333.8 629.55,333.8" fill="#0a0a0a"/>
<polygon points="631.5,372.5 629.55,363 633.45,363" fill="#0a0a0a"/>
<text x="629" y="347.8" font-size="10.1" text-anchor="middle" font-weight="normal" textLength="11.4" lengthAdjust="spacingAndGlyphs" transform="rotate(-90 629 347.8)">34</text>
<line x1="617.5" y1="330.7" x2="617.5" y2="365.8" stroke="#0a0a0a" stroke-width="1.15"/>
<polygon points="617.5,330.7 619.45,340.2 615.55,340.2" fill="#0a0a0a"/>
<polygon points="617.5,365.8 615.55,356.3 619.45,356.3" fill="#0a0a0a"/>
<text x="615.2" y="347.8" font-size="10.1" text-anchor="middle" font-weight="normal" textLength="11.4" lengthAdjust="spacingAndGlyphs" transform="rotate(-90 615.2 347.8)">25</text>
<line x1="560.8" y1="372.2" x2="603.8" y2="414" stroke="#0a0a0a" stroke-width="1.15"/>
<polygon points="563.8,375.2 572.33,380.77 569.61,383.57" fill="#0a0a0a"/>
<text x="597.8" y="406.3" font-size="10.1" text-anchor="middle" font-weight="normal" textLength="13.4" lengthAdjust="spacingAndGlyphs" transform="rotate(44.2 597.8 406.3)">R3</text>

<text x="365.9" y="311.3" font-size="10.1" text-anchor="start" font-weight="normal" textLength="75.1" lengthAdjust="spacingAndGlyphs">8 x M6x1.0 - 6H</text>
<polyline points="366,313.5 449.6,313.5 469,324.6" fill="none" stroke="#0a0a0a" stroke-width="1.15" stroke-linejoin="miter"/>
<polygon points="475.6,328.5 466.83,325.69 468.78,322.31" fill="#0a0a0a"/>
<text x="340.4" y="370.6" font-size="10.1" text-anchor="start" font-weight="normal" textLength="15.3" lengthAdjust="spacingAndGlyphs">4 x</text>
<g transform="translate(364.3 366.95)" fill="none" stroke="#0a0a0a" stroke-width="1.2"><ellipse cx="0" cy="0" rx="3.4" ry="3.8" transform="skewX(-14)"/><line x1="2.7" y1="-5.7" x2="-2.5" y2="4.7"/></g>
<text x="372.7" y="370.6" font-size="10.1" text-anchor="start" font-weight="normal" textLength="20.5" lengthAdjust="spacingAndGlyphs">3.30</text>
<g fill="none" stroke="#0a0a0a" stroke-width="1.1" stroke-linejoin="miter"><path d="M397.8 362.7H405.6M401.7 362.7V370.5M398.4 365.6L401.7 371.3L405 365.6"/></g>
<text x="411.9" y="370.6" font-size="10.1" text-anchor="start" font-weight="normal" textLength="25.9" lengthAdjust="spacingAndGlyphs">10.10</text>
<text x="347.2" y="383.2" font-size="10.1" text-anchor="start" font-weight="normal" textLength="59.6" lengthAdjust="spacingAndGlyphs">M4x0.7 - 6H</text>
<g fill="none" stroke="#0a0a0a" stroke-width="1.1" stroke-linejoin="miter"><path d="M411.2 375.3H419M415.1 375.3V383.1M411.8 378.2L415.1 383.9L418.4 378.2"/></g>
<text x="424" y="383.2" font-size="10.1" text-anchor="start" font-weight="normal" textLength="6.3" lengthAdjust="spacingAndGlyphs">8</text>
<polyline points="340.3,386.5 441.1,386.5 471.5,356.3" fill="none" stroke="#0a0a0a" stroke-width="1.15" stroke-linejoin="miter"/>
<polygon points="477.6,350.2 472.56,357.91 469.82,355.13" fill="#0a0a0a"/>
<text x="599.5" y="270.7" font-size="10.1" text-anchor="start" font-weight="normal" textLength="14.6" lengthAdjust="spacingAndGlyphs">2 x</text>
<g transform="translate(622.7 267.05)" fill="none" stroke="#0a0a0a" stroke-width="1.2"><ellipse cx="0" cy="0" rx="3.4" ry="3.8" transform="skewX(-14)"/><line x1="2.7" y1="-5.7" x2="-2.5" y2="4.7"/></g>
<text x="630.5" y="270.7" font-size="10.1" text-anchor="start" font-weight="normal" textLength="20" lengthAdjust="spacingAndGlyphs">4.30</text>
<text x="654.5" y="270.3" font-size="9.75" text-anchor="start" font-weight="bold" style="stroke-width:0.1px">完全贯穿</text>
<path d="M607.2 276.4V283.6H624.2V276.4" fill="none" stroke="#0a0a0a" stroke-width="0.95"/>
<g transform="translate(635.7 279.35)" fill="none" stroke="#0a0a0a" stroke-width="1.2"><ellipse cx="0" cy="0" rx="3.4" ry="3.8" transform="skewX(-14)"/><line x1="2.7" y1="-5.7" x2="-2.5" y2="4.7"/></g>
<text x="643.9" y="283" font-size="10.1" text-anchor="start" font-weight="normal" textLength="6.2" lengthAdjust="spacingAndGlyphs">8</text>
<g fill="none" stroke="#0a0a0a" stroke-width="1.1" stroke-linejoin="miter"><path d="M654.5 275.1H662.3M658.4 275.1V282.9M655.1 278L658.4 283.7L661.7 278"/></g>
<text x="667.9" y="283" font-size="10.1" text-anchor="start" font-weight="normal" textLength="20.6" lengthAdjust="spacingAndGlyphs">4.60</text>
<polyline points="695,286.5 595.5,286.5 538,314" fill="none" stroke="#0a0a0a" stroke-width="1.15" stroke-linejoin="miter"/>
<polygon points="530.6,317.6 537.84,311.91 539.55,315.42" fill="#0a0a0a"/>
<text x="609.1" y="300.1" font-size="10.1" text-anchor="start" font-weight="normal" textLength="95.4" lengthAdjust="spacingAndGlyphs">SM1(1.035&quot;-40)7.89</text>
<polyline points="704.4,302.5 605,302.5 510.9,357" fill="none" stroke="#0a0a0a" stroke-width="1.15" stroke-linejoin="miter"/>
<polygon points="542,339 548.82,332.81 550.77,336.19" fill="#0a0a0a"/>
<polygon points="156.5,296.8 264.6,296.8 264.6,386.5 230.2,386.5 156.5,338.8" fill="none" stroke="#0a0a0a" stroke-width="1.8" stroke-linejoin="miter"/>
<circle cx="210.3" cy="327.5" r="5.5" fill="none" stroke="#0a0a0a" stroke-width="1.0"/>
<circle cx="210.3" cy="327.5" r="2.9" fill="none" stroke="#0a0a0a" stroke-width="1.0"/>
<line x1="208.6" y1="327.5" x2="212" y2="327.5" stroke="#0a0a0a" stroke-width="0.9"/>
<line x1="210.5" y1="325.8" x2="210.5" y2="329.2" stroke="#0a0a0a" stroke-width="0.9"/>
<line x1="216.9" y1="327.5" x2="219.3" y2="327.5" stroke="#0a0a0a" stroke-width="0.8"/>
<line x1="203.7" y1="327.5" x2="201.3" y2="327.5" stroke="#0a0a0a" stroke-width="0.8"/>
<line x1="210.5" y1="334.1" x2="210.5" y2="336.5" stroke="#0a0a0a" stroke-width="0.8"/>
<line x1="210.5" y1="320.9" x2="210.5" y2="318.5" stroke="#0a0a0a" stroke-width="0.8"/>
<circle cx="231.3" cy="348" r="5.5" fill="none" stroke="#0a0a0a" stroke-width="1.0"/>
<circle cx="231.3" cy="348" r="2.9" fill="none" stroke="#0a0a0a" stroke-width="1.0"/>
<line x1="229.6" y1="348.5" x2="233" y2="348.5" stroke="#0a0a0a" stroke-width="0.9"/>
<line x1="231.5" y1="346.3" x2="231.5" y2="349.7" stroke="#0a0a0a" stroke-width="0.9"/>
<line x1="237.9" y1="348.5" x2="240.3" y2="348.5" stroke="#0a0a0a" stroke-width="0.8"/>
<line x1="224.7" y1="348.5" x2="222.3" y2="348.5" stroke="#0a0a0a" stroke-width="0.8"/>
<line x1="231.5" y1="354.6" x2="231.5" y2="357" stroke="#0a0a0a" stroke-width="0.8"/>
<line x1="231.5" y1="341.4" x2="231.5" y2="339" stroke="#0a0a0a" stroke-width="0.8"/>
<circle cx="210.3" cy="348" r="3.8" fill="none" stroke="#0a0a0a" stroke-width="1.15"/>
<line x1="207.9" y1="348.5" x2="212.7" y2="348.5" stroke="#0a0a0a" stroke-width="1.0"/>
<line x1="210.5" y1="345.6" x2="210.5" y2="350.4" stroke="#0a0a0a" stroke-width="1.0"/>
<line x1="210.5" y1="340.2" x2="210.5" y2="343.2" stroke="#0a0a0a" stroke-width="1.0"/>
<line x1="174.5" y1="246" x2="174.5" y2="398" stroke="#0a0a0a" stroke-width="1.15"/>
<polygon points="174.5,296.8 176.45,306.3 172.55,306.3" fill="#0a0a0a"/>
<polygon points="174.5,327.5 172.55,318 176.45,318" fill="#0a0a0a"/>
<polygon points="174.5,348 176.45,357.5 172.55,357.5" fill="#0a0a0a"/>
<line x1="171.8" y1="327.5" x2="198.5" y2="327.5" stroke="#0a0a0a" stroke-width="1.15"/>
<text x="172.6" y="262" font-size="10.1" text-anchor="middle" font-weight="normal" textLength="26.3" lengthAdjust="spacingAndGlyphs" transform="rotate(-90 172.6 262)">21.60</text>
<text x="172.6" y="382.1" font-size="10.1" text-anchor="middle" font-weight="normal" textLength="25.6" lengthAdjust="spacingAndGlyphs" transform="rotate(-90 172.6 382.1)">14.54</text>
<line x1="213.2" y1="262.5" x2="282.7" y2="262.5" stroke="#0a0a0a" stroke-width="1.15"/>
<polygon points="231.4,262.5 221.9,264.45 221.9,260.55" fill="#0a0a0a"/>
<polygon points="264.8,262.5 274.3,260.55 274.3,264.45" fill="#0a0a0a"/>
<line x1="231.5" y1="259" x2="231.5" y2="336.5" stroke="#0a0a0a" stroke-width="1.15"/>
<line x1="264.5" y1="259" x2="264.5" y2="294.3" stroke="#0a0a0a" stroke-width="1.15"/>
<text x="235.6" y="259.5" font-size="10.1" text-anchor="start" font-weight="normal" textLength="26.7" lengthAdjust="spacingAndGlyphs">23.50</text>
<line x1="293.5" y1="278.4" x2="293.5" y2="366" stroke="#0a0a0a" stroke-width="1.15"/>
<polygon points="293.5,296.8 291.55,287.3 295.45,287.3" fill="#0a0a0a"/>
<polygon points="293.5,348 295.45,357.5 291.55,357.5" fill="#0a0a0a"/>
<line x1="266.6" y1="296.5" x2="296" y2="296.5" stroke="#0a0a0a" stroke-width="1.15"/>
<line x1="244.2" y1="348.5" x2="296" y2="348.5" stroke="#0a0a0a" stroke-width="1.15"/>
<text x="290.6" y="322" font-size="10.1" text-anchor="middle" font-weight="normal" textLength="26" lengthAdjust="spacingAndGlyphs" transform="rotate(-90 290.6 322)">36.14</text>
<line x1="36" y1="348.5" x2="206.5" y2="348.5" stroke="#0a0a0a" stroke-width="1.15"/>
<polygon points="225.7,348.5 215.7,350.45 215.7,346.55" fill="#0a0a0a"/>
<text x="36.9" y="332.6" font-size="10.1" text-anchor="start" font-weight="normal" textLength="14.6" lengthAdjust="spacingAndGlyphs">2 x</text>
<g transform="translate(60.1 328.95)" fill="none" stroke="#0a0a0a" stroke-width="1.2"><ellipse cx="0" cy="0" rx="3.4" ry="3.8" transform="skewX(-14)"/><line x1="2.7" y1="-5.7" x2="-2.5" y2="4.7"/></g>
<text x="68.1" y="332.6" font-size="10.1" text-anchor="start" font-weight="normal" textLength="21" lengthAdjust="spacingAndGlyphs">4.30</text>
<text x="92.1" y="332.2" font-size="9.75" text-anchor="start" font-weight="bold" style="stroke-width:0.1px">完全贯穿</text>
<path d="M45 338.4V345.6H62V338.4" fill="none" stroke="#0a0a0a" stroke-width="0.95"/>
<g transform="translate(73.3 341.35)" fill="none" stroke="#0a0a0a" stroke-width="1.2"><ellipse cx="0" cy="0" rx="3.4" ry="3.8" transform="skewX(-14)"/><line x1="2.7" y1="-5.7" x2="-2.5" y2="4.7"/></g>
<text x="81.5" y="345" font-size="10.1" text-anchor="start" font-weight="normal" textLength="6" lengthAdjust="spacingAndGlyphs">8</text>
<g fill="none" stroke="#0a0a0a" stroke-width="1.1" stroke-linejoin="miter"><path d="M92 337.1H99.8M95.9 337.1V344.9M92.6 340L95.9 345.7L99.2 340"/></g>
<text x="104.9" y="345" font-size="10.1" text-anchor="start" font-weight="normal" textLength="20.2" lengthAdjust="spacingAndGlyphs">4.60</text>
<polyline points="210.5,361 210.5,426.5 300.7,426.5" fill="none" stroke="#0a0a0a" stroke-width="1.15" stroke-linejoin="miter"/>
<polygon points="210.5,351.8 212.45,361.3 208.55,361.3" fill="#0a0a0a"/>
<text x="217.3" y="411.2" font-size="10.1" text-anchor="start" font-weight="normal" textLength="37.6" lengthAdjust="spacingAndGlyphs">M6 - 6H</text>
<text x="257.8" y="410.8" font-size="10.15" text-anchor="start" font-weight="bold" style="stroke-width:0.1px">完全贯穿</text>
<g transform="translate(231.9 419.75)" fill="none" stroke="#0a0a0a" stroke-width="1.2"><ellipse cx="0" cy="0" rx="3.4" ry="3.8" transform="skewX(-14)"/><line x1="2.7" y1="-5.7" x2="-2.5" y2="4.7"/></g>
<text x="240.6" y="423.4" font-size="10.1" text-anchor="start" font-weight="normal" textLength="5.5" lengthAdjust="spacingAndGlyphs">5</text>
<text x="249.6" y="423" font-size="9.55" text-anchor="start" font-weight="bold" style="stroke-width:0.1px">完全贯穿</text>
</svg>
</body></html>
